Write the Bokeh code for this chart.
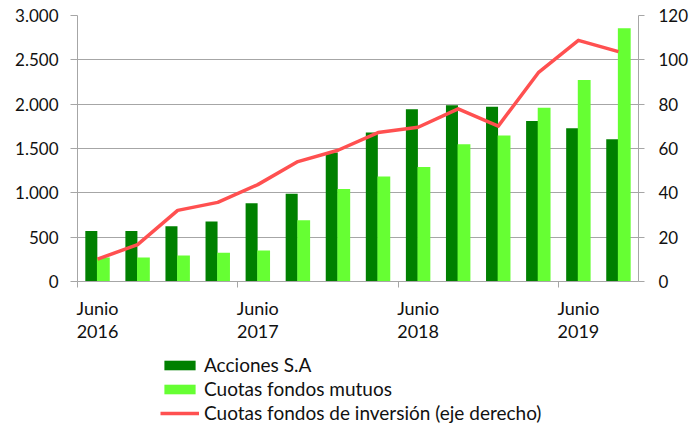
from bokeh.plotting import figure
from bokeh.layouts import column
from bokeh.models import (Range1d, LinearAxis, FixedTicker, Legend, LegendItem)
from bokeh.embed import file_html
from bokeh.resources import INLINE

# ---- data (quarterly, Jun-2016 .. Sep-2019) ----
periods = ["Jun 2016", "Sep 2016", "Dic 2016", "Mar 2017", "Jun 2017", "Sep 2017", "Dic 2017",
           "Mar 2018", "Jun 2018", "Sep 2018", "Dic 2018", "Mar 2019", "Jun 2019", "Sep 2019"]
acciones = [570, 570, 622, 678, 882, 991, 1454, 1680, 1944, 1988, 1971, 1809, 1729, 1605]
fondos_mutuos = [271, 271, 294, 324, 350, 690, 1044, 1183, 1292, 1549, 1647, 1959, 2272, 2856]
fondos_inversion = [10.1, 16.6, 32.1, 35.7, 43.7, 54.1, 59.2, 67.2, 69.6, 77.9, 70.1, 94.2, 108.8, 103.7]
x_label_index = [0, 4, 8, 12]
x_labels = ["Junio\n2016", "Junio\n2017", "Junio\n2018", "Junio\n2019"]
left_ticks = [0, 500, 1000, 1500, 2000, 2500, 3000]
right_ticks = [0, 20, 40, 60, 80, 100, 120]
series_names = ["Acciones S.A", "Cuotas fondos mutuos", "Cuotas fondos de inversión (eje derecho)"]

FONT = "Lato"
FS = "17px"
TXT = "#111111"
GRID = "#A6A6A6"
DARK = "#008000"
LIGHT = "#66FF33"
RED = "#FF5050"

n = len(periods)
centers = [i + 0.5 for i in range(n)]

p = figure(frame_width=561, frame_height=266, output_backend="svg", toolbar_location=None,
           x_range=Range1d(0, n), y_range=Range1d(0, 3000),
           min_border_left=77, min_border_right=53, min_border_top=15, min_border_bottom=60)
p.extra_y_ranges = {"right": Range1d(0, 120)}
p.outline_line_color = None
p.background_fill_color = "white"
p.border_fill_color = "white"

p.vbar(x=[c - 0.155 for c in centers], top=acciones, width=0.30, bottom=0,
       fill_color=DARK, line_color=None)
p.vbar(x=[c + 0.145 for c in centers], top=fondos_mutuos, width=0.32, bottom=0,
       fill_color=LIGHT, line_color=None)
p.line(x=centers, y=fondos_inversion, y_range_name="right",
       line_color=RED, line_width=3.5, line_join="round")

# x axis
xa = p.xaxis[0]
xa.ticker = FixedTicker(ticks=[centers[i] for i in x_label_index], minor_ticks=x_label_index)
xa.major_label_overrides = {centers[i]: lab for i, lab in zip(x_label_index, x_labels)}
xa.major_tick_line_color = None
xa.minor_tick_line_color = GRID
xa.minor_tick_in = 0
xa.minor_tick_out = 6
xa.axis_line_color = GRID
xa.major_label_text_font = FONT
xa.major_label_text_font_size = "18px"
xa.major_label_text_color = TXT
xa.major_label_standoff = 9
xa.major_label_text_line_height = 1.07

# left axis
ya = p.yaxis[0]
ya.ticker = FixedTicker(ticks=left_ticks)
ya.major_label_overrides = {t: f"{t:,}".replace(",", ".") for t in left_ticks}
ya.axis_line_color = GRID
ya.major_tick_line_color = GRID
ya.major_tick_in = 0
ya.major_tick_out = 7
ya.minor_tick_line_color = None
ya.major_label_text_font = FONT
ya.major_label_text_font_size = FS
ya.major_label_text_color = TXT
ya.major_label_standoff = 12

# right axis
ra = LinearAxis(y_range_name="right", ticker=FixedTicker(ticks=right_ticks))
ra.axis_line_color = GRID
ra.major_tick_line_color = GRID
ra.major_tick_in = 0
ra.major_tick_out = 6
ra.minor_tick_line_color = None
ra.major_label_text_font = FONT
ra.major_label_text_font_size = FS
ra.major_label_text_color = TXT
ra.major_label_standoff = 14
p.add_layout(ra, "right")

p.xgrid.grid_line_color = None
p.ygrid.ticker = FixedTicker(ticks=left_ticks)
p.ygrid.grid_line_color = GRID
p.ygrid.grid_line_width = 1

# ---- legend strip below the chart (keys only, zero-size renderers) ----
q = figure(width=691, height=82, output_backend="svg", toolbar_location=None,
           x_range=Range1d(0, 1), y_range=Range1d(0, 1),
           x_axis_location=None, y_axis_location=None,
           min_border_left=0, min_border_right=0, min_border_top=0, min_border_bottom=0)
q.grid.grid_line_color = None
q.outline_line_color = None
q.background_fill_color = "white"
q.border_fill_color = "white"
k_dark = q.vbar(x=[0.5], top=[0], bottom=[0], width=0.0, fill_color=DARK, line_color=None)
k_light = q.vbar(x=[0.5], top=[0], bottom=[0], width=0.0, fill_color=LIGHT, line_color=None)
k_line = q.line(x=[0.5], y=[0.5], line_color=RED, line_width=3.5)

legend = Legend(items=[LegendItem(label=series_names[0], renderers=[k_dark]),
                       LegendItem(label=series_names[1], renderers=[k_light]),
                       LegendItem(label=series_names[2], renderers=[k_line])],
                location=(83, 3), orientation="vertical",
                padding=0, margin=0, spacing=1, border_line_color=None,
                background_fill_alpha=0, glyph_width=39, glyph_height=12,
                label_height=23, label_standoff=5,
                label_text_font=FONT, label_text_font_size="19px", label_text_color=TXT)
q.add_layout(legend, "center")

layout = column(p, q, spacing=0)
open("out.html", "w").write(file_html(layout, INLINE))
